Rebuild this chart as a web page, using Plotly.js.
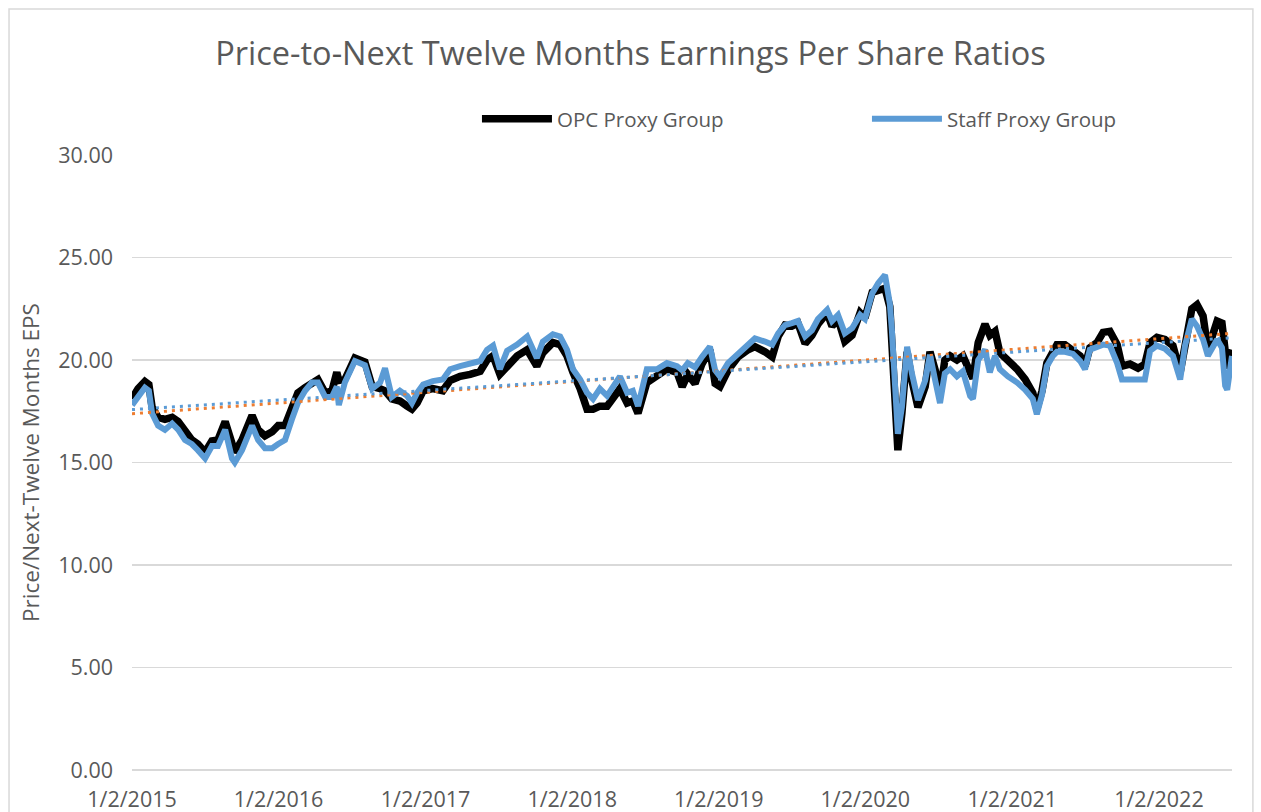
<!DOCTYPE html>
<html>
<head>
<meta charset="utf-8">
<script src="https://cdn.plot.ly/plotly-3.0.1.min.js"></script>
<style>html,body{margin:0;padding:0;background:#fff;}#chart{width:1261px;height:812px;}</style>
</head>
<body>
<div id="chart"></div>
<script>
// Dates of the readings (daily series)
const dates = [
'2015-01-02','2015-01-17','2015-02-03','2015-02-13','2015-02-21','2015-03-08','2015-03-25','2015-04-12','2015-04-27','2015-05-14',
'2015-05-31','2015-06-15','2015-07-03','2015-07-20','2015-08-04','2015-08-22','2015-09-08','2015-09-15','2015-10-03','2015-10-28',
'2015-11-12','2015-11-29','2015-12-17','2016-01-01','2016-01-18','2016-02-04','2016-02-19','2016-03-08','2016-03-25','2016-04-09',
'2016-04-27','2016-05-14','2016-05-26','2016-05-31','2016-06-15','2016-07-10','2016-08-04','2016-08-22','2016-09-11','2016-09-23',
'2016-10-10','2016-10-30','2016-11-17','2016-11-29','2016-12-12','2016-12-27','2017-01-20','2017-02-14','2017-03-04','2017-03-29',
'2017-04-23','2017-05-18','2017-06-04','2017-06-19','2017-07-06','2017-07-24','2017-08-18','2017-09-12','2017-10-06','2017-10-21',
'2017-11-15','2017-12-03','2017-12-20','2018-01-04','2018-01-22','2018-02-08','2018-02-23','2018-03-12','2018-03-30','2018-05-01',
'2018-05-19','2018-06-02','2018-06-15','2018-07-07','2018-08-01','2018-08-26','2018-09-20','2018-10-03','2018-10-17','2018-11-04',
'2018-11-21','2018-12-11','2018-12-24','2019-01-05','2019-01-25','2019-02-19','2019-03-16','2019-04-02','2019-04-27','2019-05-15',
'2019-05-30','2019-06-16','2019-07-03','2019-07-18','2019-08-05','2019-08-22','2019-09-06','2019-09-29','2019-10-11','2019-10-26',
'2019-11-12','2019-11-30','2019-12-20','2020-01-01','2020-01-19','2020-02-03','2020-02-20','2020-03-03','2020-03-08','2020-03-16',
'2020-03-23','2020-04-02','2020-04-15','2020-04-27','2020-05-12','2020-05-30','2020-06-11','2020-06-24','2020-07-06','2020-07-18',
'2020-07-31','2020-08-17','2020-09-01','2020-09-19','2020-09-26','2020-10-09','2020-10-26','2020-11-07','2020-11-20','2020-12-02',
'2020-12-22','2021-01-14','2021-02-03','2021-02-22','2021-03-04','2021-03-17','2021-03-29','2021-04-13','2021-04-23','2021-05-13',
'2021-06-02','2021-06-20','2021-07-02','2021-07-14','2021-08-01','2021-08-16','2021-09-02','2021-09-20','2021-10-02','2021-10-22',
'2021-11-11','2021-11-28','2021-12-11','2021-12-28','2022-01-17','2022-02-06','2022-02-24','2022-03-08','2022-03-25','2022-04-07',
'2022-04-22','2022-05-04','2022-05-27','2022-06-08','2022-06-16','2022-06-21','2022-07-03'
];

const opcProxy = [
18.1,18.6,18.95,18.8,17.7,17.2,17.1,17.2,17.0,16.6,
16.1,15.9,15.5,16.05,16.1,17.0,15.8,15.5,16.1,17.3,
16.6,16.3,16.5,16.8,16.8,17.6,18.4,18.65,18.9,19.05,
18.4,18.5,19.4,19.0,19.05,20.1,19.9,18.7,18.6,18.5,
18.1,18.0,17.75,17.6,17.9,18.5,18.6,18.5,19.0,19.2,
19.3,19.45,20.0,20.2,19.3,19.7,20.2,20.5,19.7,20.35,
20.85,20.75,20.2,19.4,18.6,17.6,17.6,17.75,17.75,18.6,
17.9,18.0,17.4,18.9,19.2,19.55,19.4,18.7,19.3,18.85,
19.8,20.5,18.85,18.7,19.5,20.15,20.5,20.65,20.4,20.15,
21.15,21.7,21.65,21.8,20.8,21.2,21.75,22.3,21.65,22.0,
20.9,21.2,22.3,22.05,23.3,23.4,23.5,22.6,20.65,18.4,
15.6,17.4,20.4,19.0,17.7,18.7,20.4,19.5,18.4,20.0,
20.2,20.0,20.2,19.4,19.1,20.85,21.75,21.2,21.4,20.35,
20.0,19.55,19.05,18.4,17.6,18.5,19.85,20.5,20.75,20.75,
20.45,20.2,19.7,20.6,20.85,21.35,21.4,20.75,19.7,19.8,
19.6,19.8,20.85,21.1,21.0,20.7,19.4,20.85,22.5,22.7,
22.15,20.5,21.9,21.8,20.3,19.6,20.5
];

const staffProxy = [
17.8,18.2,18.65,18.5,17.4,16.8,16.6,16.9,16.6,16.1,
15.9,15.6,15.2,15.8,15.8,16.6,15.2,15.0,15.6,16.8,
16.1,15.7,15.7,15.9,16.1,17.1,17.9,18.5,18.9,18.9,
18.2,18.2,18.7,17.8,18.9,19.95,19.75,18.6,18.9,19.6,
18.2,18.5,18.25,17.9,18.4,18.8,18.97,19.05,19.55,19.7,
19.8,19.95,20.5,20.7,19.55,20.45,20.75,21.15,20.1,20.9,
21.25,21.15,20.5,19.55,19.05,18.4,18.1,18.6,18.25,19.2,
18.4,18.5,17.75,19.55,19.55,19.85,19.7,19.5,19.85,19.65,
20.15,20.65,19.5,19.2,19.85,20.3,20.8,21.05,20.9,20.75,
21.3,21.7,21.8,21.9,21.15,21.45,22.0,22.45,21.9,22.2,
21.3,21.55,22.2,22.0,23.25,23.75,24.15,22.75,21.5,18.4,
16.4,17.7,20.65,19.35,18.05,19.0,20.25,19.0,17.9,19.35,
19.55,19.2,19.45,18.25,18.1,20.0,20.5,19.4,20.2,19.55,
19.2,18.9,18.55,18.1,17.35,18.3,19.7,20.2,20.4,20.4,
20.3,19.95,19.55,20.5,20.6,20.75,20.7,19.85,19.05,19.05,
19.0,19.05,20.45,20.7,20.55,20.2,19.05,20.7,22.0,21.65,
21.0,20.2,21.0,20.6,18.75,18.55,20.2
];

// Linear trend lines read at the start and end of the period
const trendDates = ['2015-01-02','2022-07-03'];
const opcTrend = [17.38, 21.3];
const staffTrend = [17.58, 21.08];

const tickDates = ['2015-01-02','2016-01-02','2017-01-02','2018-01-02','2019-01-02','2020-01-02','2021-01-02','2022-01-02'];
const tickLabels = ['1/2/2015','1/2/2016','1/2/2017','1/2/2018','1/2/2019','1/2/2020','1/2/2021','1/2/2022'];

const FONT = '"Open Sans", Lato, sans-serif';
const GREY = '#595959';

const traces = [
  {x: dates, y: opcProxy, type: 'scatter', mode: 'lines', name: 'OPC Proxy Group',
   line: {color: '#000000', width: 7.5}},
  {x: dates, y: staffProxy, type: 'scatter', mode: 'lines', name: 'Staff Proxy Group',
   line: {color: '#5B9BD5', width: 6}},
  {x: trendDates, y: opcTrend, type: 'scatter', mode: 'lines', name: 'Linear (OPC Proxy Group)',
   showlegend: false, line: {color: '#ED7D31', width: 3, dash: '3px,5px'}},
  {x: trendDates, y: staffTrend, type: 'scatter', mode: 'lines', name: 'Linear (Staff Proxy Group)',
   showlegend: false, line: {color: '#5B9BD5', width: 3, dash: '3px,5px'}}
];

const layout = {
  width: 1261, height: 812,
  margin: {l: 132, r: 29, t: 155, b: 42, autoexpand: false},
  paper_bgcolor: '#ffffff', plot_bgcolor: '#ffffff',
  font: {family: FONT, color: GREY},
  title: {text: 'Price-to-Next Twelve Months Earnings Per Share Ratios',
          font: {family: FONT, size: 32.5, color: GREY}, x: 0.5, xanchor: 'center', y: 0.934, yanchor: 'middle'},
  showlegend: true,
  legend: {orientation: 'h', x: 0.3136, xanchor: 'left', y: 1.0585, yanchor: 'middle',
           font: {family: FONT, size: 20.5, color: GREY}, entrywidth: 305, entrywidthmode: 'pixels',
           itemwidth: 70, bgcolor: 'rgba(0,0,0,0)'},
  xaxis: {type: 'date', range: ['2015-01-02', '2022-07-03'], tickvals: tickDates, ticktext: tickLabels,
          showgrid: false, zeroline: false, showline: false, ticks: '',
          tickfont: {family: FONT, size: 21.5, color: GREY}, ticklabelstandoff: 14, fixedrange: true},
  yaxis: {range: [0, 30], dtick: 5, tick0: 0, tickformat: '.2f', showgrid: true, gridcolor: '#d9d9d9', gridwidth: 1.5,
          zeroline: true, zerolinecolor: '#d9d9d9', zerolinewidth: 1.5, showline: false,
          ticks: '', ticklabelstandoff: 18,
          tickfont: {family: FONT, size: 21.5, color: GREY},
          title: {text: 'Price/Next-Twelve Months EPS', font: {family: FONT, size: 22.5, color: GREY}, standoff: 12},
          fixedrange: true},
  shapes: [{type: 'rect', xref: 'paper', yref: 'paper', x0: -0.1118, x1: 1.019, y0: -0.09, y1: 1.2374,
            line: {color: '#d9d9d9', width: 1.5}, layer: 'below'}]
};

Plotly.newPlot('chart', traces, layout, {displayModeBar: false, staticPlot: true});
</script>
</body>
</html>
